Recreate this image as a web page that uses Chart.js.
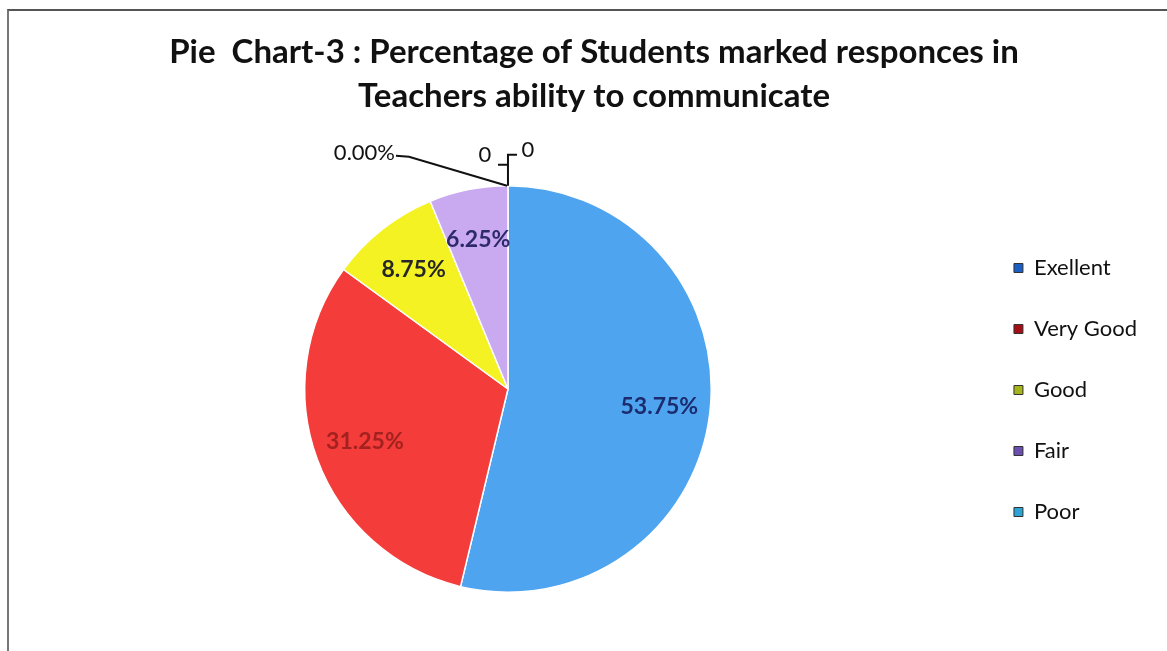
<!DOCTYPE html>
<html>
<head>
<meta charset="utf-8">
<script src="https://cdn.jsdelivr.net/npm/chart.js@4.4.1/dist/chart.umd.min.js"></script>
<style>
html,body{margin:0;padding:0;background:#fff;}
#wrap{position:relative;width:1167px;height:651px;overflow:hidden;}
#frame{position:absolute;left:7px;top:9px;right:-10px;bottom:-10px;border-top:2px solid #555;border-left:2px solid #777;}
canvas{position:absolute;left:0;top:0;}
</style>
</head>
<body>
<div id="wrap"><div id="frame"></div><canvas id="my-chart" width="1167" height="651"></canvas></div>
<script>
'use strict'
///data///
let categories = ['Exellent', 'Very Good', 'Good', 'Fair', 'Poor']
let percents = [53.75, 31.25, 8.75, 6.25, 0]
let pctLabels = ['53.75%', '31.25%', '8.75%', '6.25%', '0.00%']
let extraZeros = ['0', '0']//the two stray zero labels above the pie

///colours///
let sliceColors = ['#4ea4ee', '#f43c3a', '#f4f223', '#c9aaf0', '#2aa5d8']
let legendColors = ['#1b5ec4', '#a40f16', '#a6b41c', '#6b4fb0', '#2ba3d4']
let labelColors = ['#1c2b6e', '#a3221f', '#262626', '#2d2a6a', '#111']

let ctx = document.getElementById('my-chart').getContext('2d')

//draws % labels inside slices + the leader lines for zero values
const sliceLabels = {
  id: 'sliceLabels',
  afterDatasetsDraw(chart) {
    const c = chart.ctx
    const arcs = chart.getDatasetMeta(0).data
    c.save()
    c.font = 'bold 23px Lato'
    c.textAlign = 'center'
    c.textBaseline = 'middle'
    arcs.forEach((arc, i) => {
      if (percents[i] === 0) return
      const mid = (arc.startAngle + arc.endAngle) / 2
      const d = arc.outerRadius * 0.75
      c.fillStyle = labelColors[i]
      c.fillText(pctLabels[i], arc.x + Math.cos(mid) * d, arc.y + Math.sin(mid) * d)
    })

    //zero slice sits at the top of the pie
    const z = arcs[4]
    const ax = z.x + Math.cos(z.startAngle) * z.outerRadius
    const ay = z.y + Math.sin(z.startAngle) * z.outerRadius
    c.strokeStyle = '#111'
    c.lineWidth = 2
    c.beginPath()
    c.moveTo(ax - 1, ay)
    c.lineTo(ax - 99, ay - 29)
    c.lineTo(ax - 112, ay - 30)
    c.stroke()
    c.beginPath()
    c.moveTo(ax, ay)
    c.lineTo(ax, ay - 21)
    c.lineTo(ax - 10, ay - 21)
    c.moveTo(ax, ay - 21)
    c.lineTo(ax, ay - 31)
    c.lineTo(ax + 9, ay - 31)
    c.stroke()

    c.font = '22px Lato'
    c.fillStyle = '#111'
    c.textAlign = 'right'
    c.fillText(pctLabels[4], ax - 113, ay - 33)
    c.textAlign = 'center'
    c.fillText(extraZeros[0], ax - 23, ay - 31)
    c.fillText(extraZeros[1], ax + 20, ay - 36)
    c.restore()
  }
}

let chartObject = {
  type: 'pie',
  data: {
    labels: categories,
    datasets: [{
      data: percents,
      backgroundColor: sliceColors,
      borderColor: '#ffffff',
      borderWidth: 1.5
    }]
  },
  options: {
    responsive: false,
    animation: false,
    layout: {
      padding: { left: 41, right: 20, top: 0, bottom: 58 }
    },
    plugins: {
      title: {
        display: true,
        text: ['Pie  Chart-3 : Percentage of Students marked responces in', 'Teachers ability to communicate'],
        color: '#111',
        font: { family: 'Lato', size: 33, weight: 'bold', lineHeight: 1.333 },
        padding: { top: 30, bottom: 67 }
      },
      legend: {
        position: 'right',
        //empty legend title only used to push the items down
        title: { display: true, text: ' ', font: { size: 10 }, padding: { top: 175, bottom: 0 } },
        labels: {
          color: '#111',
          font: { family: 'Lato', size: 22 },
          boxWidth: 9,
          boxHeight: 9,
          padding: 39,
          generateLabels: function (chart) {
            return categories.map((name, i) => ({
              text: name,
              fillStyle: legendColors[i],
              strokeStyle: '#333',
              fontColor: '#111',
              lineWidth: 1,
              index: i
            }))
          }
        }
      },
      tooltip: { enabled: false }
    }
  },
  plugins: [sliceLabels]
}

const myChart = new Chart(ctx, chartObject)
</script>
</body>
</html>
